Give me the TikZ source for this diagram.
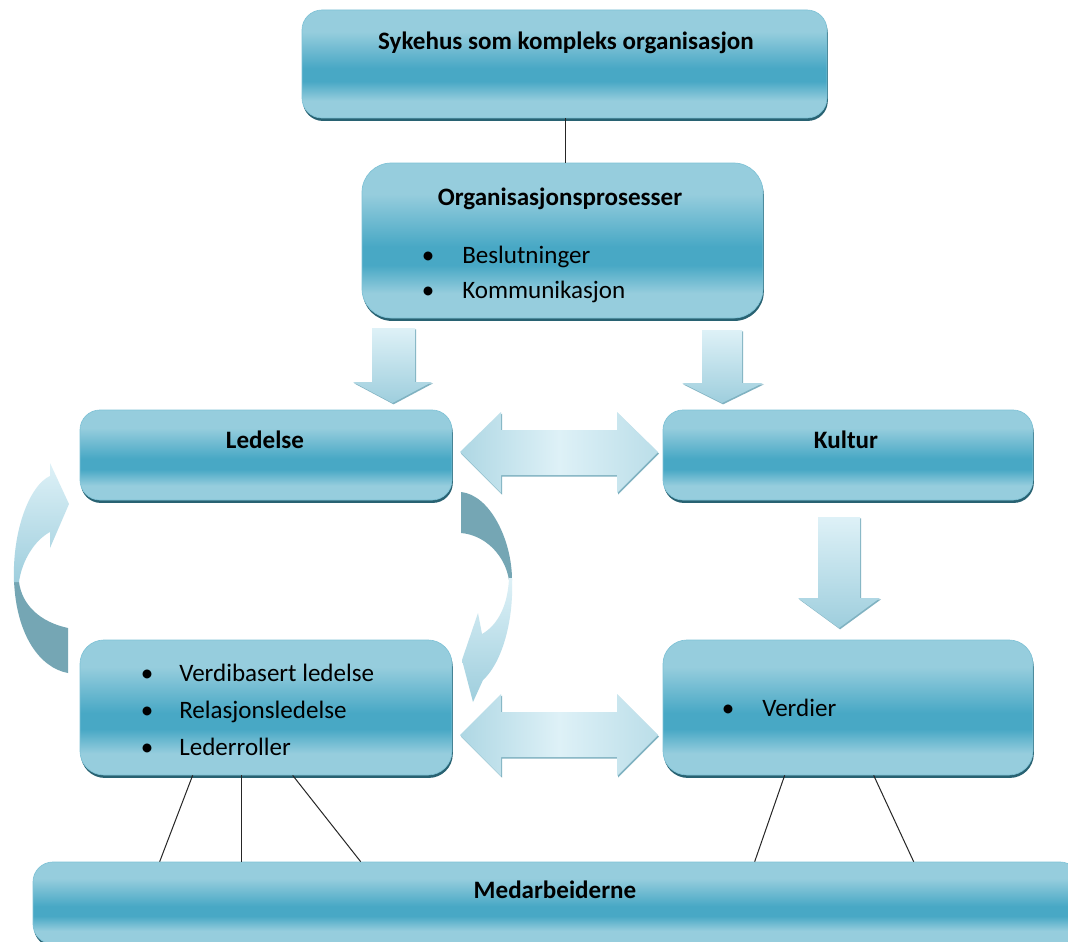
\documentclass[tikz,border=0pt]{standalone}
\usepackage{fontspec}
\setmainfont{Carlito}
\usetikzlibrary{calc,shadows}
\definecolor{bl}{RGB}{150,205,221}
\definecolor{bm}{RGB}{72,168,197}
\definecolor{bsh}{RGB}{40,98,114}
\definecolor{al}{RGB}{222,241,247}
\definecolor{ad}{RGB}{158,206,221}
\definecolor{dk}{RGB}{117,166,180}
\definecolor{ashd}{RGB}{128,178,193}
\pgfdeclareverticalshading{boxsh}{100bp}{color(0bp)=(bl); color(25bp)=(bl); color(33bp)=(bl); color(42bp)=(bm); color(48bp)=(bm); color(65bp)=(bl); color(100bp)=(bl)}
\tikzset{
  boxst/.style={rounded corners=15pt, shading=boxsh, draw=bm!70!white, line width=0.5pt, inner sep=0pt,
    drop shadow={shadow xshift=0.6pt, shadow yshift=-2.2pt, fill=bsh, opacity=1}},
  ttl/.style={font=\fontsize{18.8}{22}\selectfont\bfseries, inner sep=0pt, anchor=base},
  itm/.style={font=\fontsize{18.8}{22}\selectfont, inner sep=0pt, anchor=base west},
  bul/.style={font=\fontsize{18.8}{22}\selectfont, inner sep=0pt, anchor=base},
  downarr/.style={top color=al, bottom color=ad, drop shadow={shadow xshift=0.8pt, shadow yshift=-1pt, fill=ashd, opacity=1}},
  dblarr/.style={left color=ad!75!al, right color=ad!55!al, middle color=al, drop shadow={shadow xshift=0.8pt, shadow yshift=-1.2pt, fill=ashd, opacity=1}},
  curvlight/.style={top color=al, bottom color=ad},
  curvdark/.style={fill=dk},
  conn/.style={draw=black!85, line width=0.75pt}
}
\begin{document}
\begin{tikzpicture}[x=0.75pt,y=-0.75pt]
\useasboundingbox (0,0) rectangle (1068,942);
\fill[white] (0,0) rectangle (1068,942);

% boxes
\node[boxst, minimum width=393.75pt, minimum height=81pt] (top) at (564.5,64) {};
\node[boxst, rounded corners=22pt, minimum width=300.75pt, minimum height=116.25pt] (org) at (562.5,240.5) {};
\node[boxst, minimum width=279pt, minimum height=67.5pt] (led) at (266,455) {};
\node[boxst, minimum width=277.5pt, minimum height=67.5pt] (kul) at (848,455) {};
\node[boxst, rounded corners=18pt, minimum width=279pt, minimum height=101.25pt] (ll) at (266,707.5) {};
\node[boxst, rounded corners=18pt, minimum width=277.5pt, minimum height=101.25pt] (ver) at (848,707.5) {};
\node[boxst, minimum width=785.25pt, minimum height=61.5pt] (med) at (556.5,903) {};

% connectors
\draw[conn] ([xshift=1.1pt]top.south) -- ([xshift=2.6pt]org.north);
\draw[conn] ($(ll.south west)+(113,0)$) -- ($(med.north west)+(127,0)$);
\draw[conn] ($(ll.south west)+(162,0)$) -- ($(med.north west)+(209,0)$);
\draw[conn] ($(ll.south west)+(213,0)$) -- ($(med.north west)+(328,0)$);
\draw[conn] ($(ver.south west)+(122,0)$) -- ($(med.north west)+(722,0)$);
\draw[conn] ($(ver.south west)+(211,0)$) -- ($(med.north west)+(881,0)$);

% down arrows
\path[downarr] (372,328) -- (415,328) -- (415,382) -- (432,382) -- (392.5,403) -- (353,382) -- (372,382) -- cycle;
\path[downarr] (702,330) -- (742,330) -- (742,383) -- (763,383) -- (722,403) -- (682,383) -- (702,383) -- cycle;
\path[downarr] (818,517) -- (860,517) -- (860,598) -- (880,598) -- (839,628) -- (798,598) -- (818,598) -- cycle;

% double arrows
\path[dblarr] (460,452) -- (501,412) -- (501,430) -- (617,430) -- (617,412) -- (658,452) -- (617,493) -- (617,475) -- (501,475) -- (501,493) -- cycle;
\path[dblarr] (460,735) -- (501,694) -- (501,712) -- (617,712) -- (617,694) -- (658,735) -- (617,776) -- (617,757) -- (501,757) -- (501,776) -- cycle;

% left curved arrow
\path[curvdark] (14,580) .. controls (16,635) and (40,668) .. (68,673) -- (68,628) .. controls (40,622) and (22,605) .. (19,582) -- cycle;
\path[curvlight] (14,582) .. controls (12,530) and (30,485) .. (50,476) -- (50,463) -- (69,504) -- (50,548) -- (50,532) .. controls (35,540) and (22,560) .. (19,582) -- cycle;

% right curved arrow
\path[curvdark] (461,492) .. controls (490,495) and (512,540) .. (512,580) -- (509,580) .. controls (505,555) and (485,535) .. (461,533) -- cycle;
\path[curvlight] (512,578) .. controls (514,625) and (500,665) .. (483,680) -- (473,702) -- (462,660) -- (478,613) -- (482,634) .. controls (498,625) and (508,605) .. (509,578) -- cycle;

% texts
\node[ttl] (t1) at (566,50) {Sykehus som kompleks organisasjon};
\node[ttl] (t2) at (560,205) {Organisasjonsprosesser};
\node[bul] (b1) at (428,263) {•};
\node[itm] (i1) at (462,263) {Beslutninger};
\node[bul] (b2) at (428,298) {•};
\node[itm] (i2) at (462,298) {Kommunikasjon};
\node[ttl] (t3) at (265,448) {Ledelse};
\node[ttl] (t4) at (846,448) {Kultur};
\node[bul] (b3) at (147,681) {•};
\node[itm] (i3) at (179,681) {Verdibasert ledelse};
\node[bul] (b4) at (147,718) {•};
\node[itm] (i4) at (179,718) {Relasjonsledelse};
\node[bul] (b5) at (147,755) {•};
\node[itm] (i5) at (179,755) {Lederroller};
\node[bul] (b6) at (728,716) {•};
\node[itm] (i6) at (762,716) {Verdier};
\node[ttl] (t5) at (555,898) {Medarbeiderne};
\end{tikzpicture}
\end{document}
